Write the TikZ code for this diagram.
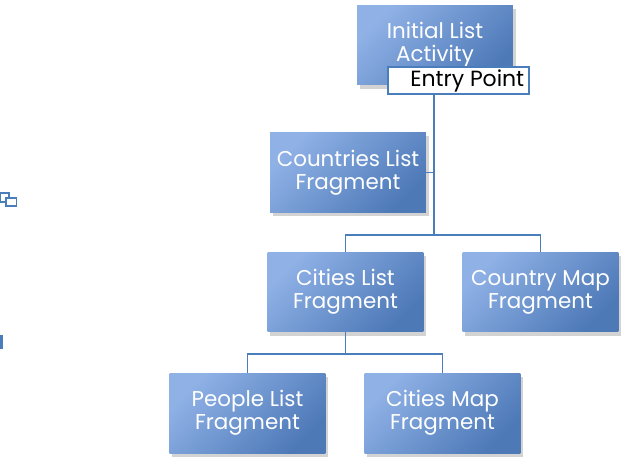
\documentclass[tikz,border=0pt]{standalone}
\usepackage{fontspec}
\setmainfont{Poppins}
\usepackage{xcolor}
\usetikzlibrary{positioning,shadows}
\definecolor{boxlight}{HTML}{8FB1E6}
\definecolor{boxdark}{HTML}{4D79B7}
\definecolor{linkblue}{HTML}{4A7EBB}
\tikzset{frag node/.style={rectangle,minimum width=3.12cm,minimum height=1.6cm,
    inner sep=0pt,align=center,text=white,font=\fontsize{12.2}{13}\selectfont,
    left color=boxlight,right color=boxdark,shading angle=45,
    drop shadow={shadow xshift=1.5pt,shadow yshift=-2pt,opacity=0.35}},
  link/.style={draw=linkblue,line width=1.1pt}}

\begin{document}
\begin{tikzpicture}[x=0.02cm,y=-0.02cm]

\useasboundingbox (0,0) rectangle (629,467);

%Activity and its entry point
 \node[frag node] (InitList) at (435,45) {Initial List\\Activity};
 \node[rectangle,draw=linkblue,fill=white,line width=0.9pt,minimum width=2.82cm,
       minimum height=0.54cm,inner sep=0pt,font=\fontsize{12.5}{13}\selectfont] (EntryPoint) at (458.5,80.5) {\hspace{0.35cm}Entry Point};

%Fragments
 \node[frag node] (CountriesList) at (348,172.5) {Countries List\\Fragment};
 \node[frag node] (CitiesList) at (345.5,292) {Cities List\\Fragment};
 \node[frag node] (CountryMap) at (540.5,292) {Country Map\\Fragment};
 \node[frag node] (PeopleList) at (247.5,413) {People List\\Fragment};
 \node[frag node] (CitiesMap) at (442.5,413) {Cities Map\\Fragment};

%Connectors
 \coordinate (Trunk1) at (434,235);
 \coordinate (Trunk2) at (345.5,354);
 \draw[link] (Trunk1 |- EntryPoint.south) -- (Trunk1);
 \draw[link] (CountriesList.east) -| (Trunk1);
 \draw[link] (CitiesList.north) |- (Trunk1) -| (CountryMap.north);
 \draw[link] (CitiesList.south) -- (Trunk2);
 \draw[link] (PeopleList.north) |- (Trunk2) -| (CitiesMap.north);

%Small marks on the left
 \draw[draw=linkblue,fill=white,line width=0.9pt] (0.5,193) rectangle (9,202);
 \draw[draw=linkblue,fill=white,line width=0.9pt] (6,198) rectangle (16.5,206);
 \fill[linkblue] (0,335) rectangle (3,349);

\end{tikzpicture}
\end{document}
